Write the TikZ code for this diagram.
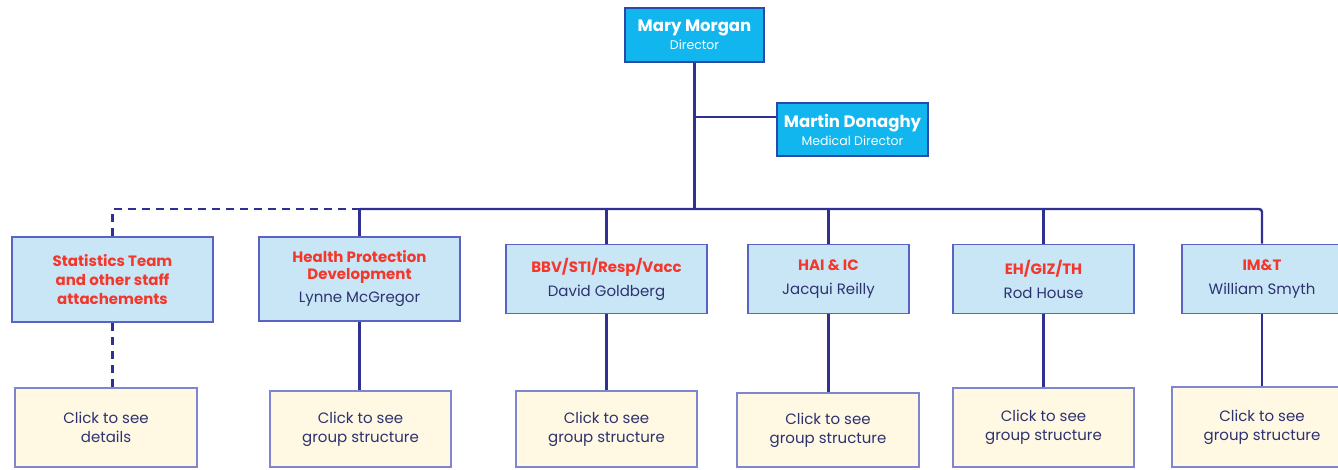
\documentclass[tikz,border=0pt]{standalone}
\usepackage{fontspec}
\setmainfont{Poppins}
\definecolor{head}{HTML}{12B6EE}
\definecolor{headline}{HTML}{2B4AA8}
\definecolor{unitfill}{HTML}{C9E6F7}
\definecolor{unitline}{HTML}{5A62C4}
\definecolor{linkfill}{HTML}{FFF8E3}
\definecolor{linkline}{HTML}{7F85CF}
\definecolor{conn}{HTML}{2E3192}
\definecolor{title}{HTML}{F4372B}
\definecolor{nametext}{HTML}{2D3270}
\tikzset{
  headbox/.style={draw=headline, line width=1.6pt, fill=head, text=white,
    align=center, inner sep=0pt},
  unitbox/.style={draw=unitline, line width=1.8pt, fill=unitfill, text=nametext,
    align=center, inner sep=0pt, font=\fontsize{15}{19}\selectfont},
  linkbox/.style={draw=linkline, line width=1.8pt, fill=linkfill, text=nametext,
    align=center, inner sep=0pt, font=\fontsize{15}{19}\selectfont},
  conn/.style={draw=conn, line width=2.4pt},
  dashconn/.style={conn, dashed, dash pattern=on 8pt off 6pt, line width=2.2pt}
}
\begin{document}
\begin{tikzpicture}[x=1pt, y=-1pt]
\useasboundingbox (0,0) rectangle (1338,469);

% directors
\node[headbox, minimum width=139, minimum height=54] (mary) at (694.5,35)
  {{\fontsize{16.5}{18}\selectfont\bfseries Mary Morgan}\\[3pt]{\fontsize{12.5}{14}\selectfont Director}};
\node[headbox, minimum width=151, minimum height=53] (martin) at (852.5,129.5)
  {{\fontsize{16.5}{18}\selectfont\bfseries Martin Donaghy}\\[3pt]{\fontsize{12.5}{14}\selectfont Medical Director}};

% units
\node[unitbox, minimum width=201, minimum height=85] (stats) at (112.5,279.5)
  {\textcolor{title}{\bfseries Statistics Team}\\\textcolor{title}{\bfseries and other staff}\\\textcolor{title}{\bfseries attachements}};
\node[unitbox, minimum width=201, minimum height=84] (hpd) at (359.5,279)
  {\textcolor{title}{\bfseries Health Protection}\\[-2pt]\textcolor{title}{\bfseries Development}\\[4pt]Lynne McGregor};
\node[unitbox, minimum width=201, minimum height=69] (bbv) at (606.5,279)
  {\textcolor{title}{\bfseries BBV/STI/Resp/Vacc}\\[5pt]David Goldberg};
\node[unitbox, minimum width=161, minimum height=69] (hai) at (828.5,279)
  {\textcolor{title}{\bfseries HAI \& IC}\\[5pt]Jacqui Reilly};
\node[unitbox, minimum width=181, minimum height=69] (eh) at (1043.5,279)
  {\textcolor{title}{\bfseries EH/GIZ/TH}\\[5pt]Rod House};
\node[unitbox, minimum width=160, minimum height=69] (imt) at (1262,279)
  {\textcolor{title}{\bfseries IM\&T}\\[5pt]William Smyth};

% links
\node[linkbox, minimum width=182, minimum height=79] (statsd) at (106,427.5) {Click to see\\details};
\node[linkbox, minimum width=181, minimum height=76] (hpdd) at (360.5,429) {Click to see\\group structure};
\node[linkbox, minimum width=181, minimum height=76] (bbvd) at (606.5,429) {Click to see\\group structure};
\node[linkbox, minimum width=182, minimum height=74] (haid) at (828,430) {Click to see\\group structure};
\node[linkbox, minimum width=181, minimum height=79] (ehd) at (1043.5,427.5) {Click to see\\group structure};
\node[linkbox, minimum width=180, minimum height=80] (imtd) at (1262,427) {Click to see\\group structure};

% reporting lines
\coordinate (bus) at (694.5,209);
\coordinate (busl) at (359.5,209);
\coordinate (busr) at (1262,209);
\coordinate (tap) at (694.5,117);
\coordinate (dashl) at (112.5,209);

\path[conn] (mary.south) -- (bus);
\path[conn] (tap) -- (tap -| martin.west);
\path[conn, rounded corners=3pt] (busl) -- (busr) -- (imt.north);
\path[conn] (busl) -- (hpd.north);
\path[conn] (bbv.north |- bus) -- (bbv.north);
\path[conn] (hai.north |- bus) -- (hai.north);
\path[conn] (eh.north |- bus) -- (eh.north);
\path[dashconn] (busl) -- (dashl) -- (stats.north);
\path[dashconn] (stats.south) -- (stats.south |- statsd.north);
\path[conn] (hpd.south) -- (hpd.south |- hpdd.north);
\path[conn] (bbv.south) -- (bbvd.north);
\path[conn] (hai.south) -- (hai.south |- haid.north);
\path[conn] (eh.south) -- (ehd.north);
\path[conn] (imt.south) -- (imtd.north);
\end{tikzpicture}
\end{document}
